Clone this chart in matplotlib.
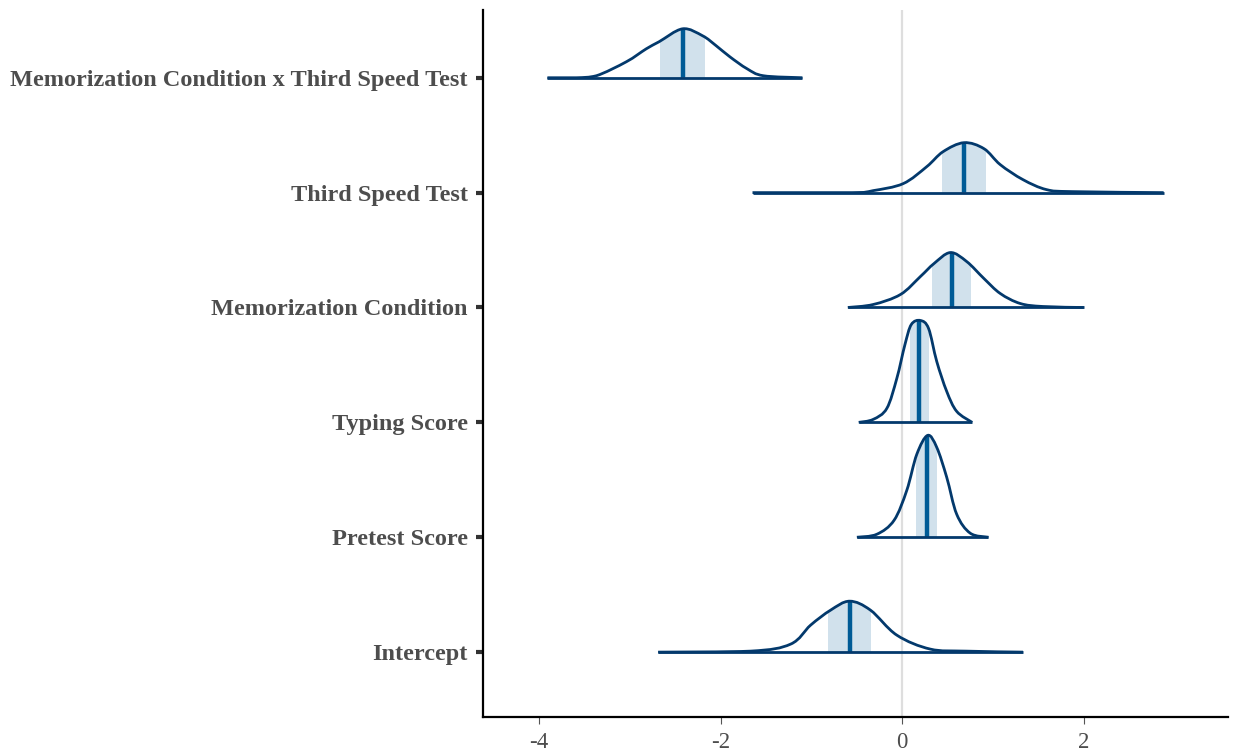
import matplotlib.pyplot as plt
from matplotlib.patches import PathPatch, Rectangle
from matplotlib.path import Path
import numpy as np

# parameters, top to bottom
params = ["Memorization Condition x Third Speed Test", "Third Speed Test",
          "Memorization Condition", "Typing Score", "Pretest Score", "Intercept"]

# density outlines: x positions and curve heights (pixels above baseline)
dens_x = [
    [-3.91, -3.59, -3.37, -3.04, -2.82, -2.68, -2.42, -2.20, -2.05, -1.90, -1.71, -1.53, -1.10],
    [-1.65, -0.55, -0.32, 0.01, 0.27, 0.45, 0.68, 0.90, 1.08, 1.33, 1.59, 1.88, 2.88],
    [-0.60, -0.32, -0.02, 0.20, 0.35, 0.53, 0.71, 0.90, 1.08, 1.30, 1.55, 2.00],
    [-0.48, -0.32, -0.17, -0.06, 0.03, 0.10, 0.20, 0.29, 0.38, 0.49, 0.60, 0.77],
    [-0.50, -0.28, -0.09, 0.05, 0.16, 0.28, 0.38, 0.49, 0.60, 0.75, 0.95],
    [-2.69, -1.67, -1.23, -1.01, -0.79, -0.58, -0.35, -0.06, 0.31, 0.70, 1.33],
]
dens_h = [
    [0, 0, 2, 16, 29, 36, 49, 42, 32, 21, 9, 2, 0],
    [0, 0, 2, 9, 26, 41, 50, 44, 28, 13, 3, 1, 0],
    [0, 3, 13, 31, 44, 55, 46, 29, 14, 4, 1, 0],
    [0, 3, 14, 44, 78, 98, 102, 94, 61, 31, 11, 0],
    [0, 3, 17, 47, 83, 102, 90, 60, 23, 4, 0],
    [0, 1, 8, 27, 42, 51, 42, 17, 3, 1, 0],
]
# 50% intervals and medians
ci_lo = [-2.67, 0.44, 0.33, 0.08, 0.15, -0.82]
ci_hi = [-2.17, 0.92, 0.76, 0.30, 0.38, -0.34]
medians = [-2.42, 0.68, 0.55, 0.19, 0.27, -0.58]

xticks = [-4, -2, 0, 2]

fill_col = "#d1e1ec"
line_col = "#03396c"
med_col = "#005b96"
row_px = 115.0


def smooth_path(pts, ymin):
    # catmull-rom through the read points, as cubic bezier segments
    p = np.vstack([pts[0], pts, pts[-1]])
    verts = [pts[0]]
    codes = [Path.MOVETO]
    for k in range(1, len(p) - 2):
        c1 = p[k] + (p[k + 1] - p[k - 1]) / 6.0
        c2 = p[k + 1] - (p[k + 2] - p[k]) / 6.0
        c1[1] = max(c1[1], ymin)
        c2[1] = max(c2[1], ymin)
        verts += [c1, c2, p[k + 1]]
        codes += [Path.CURVE4] * 3
    return Path(np.array(verts), codes)


fig = plt.figure(figsize=(12.33, 7.55), dpi=100)
ax = fig.add_axes([0.3917, 0.0503, 0.6043, 0.9365])

ax.axvline(0, color="#dedede", lw=1.6, zorder=0)

n = len(params)
for i, name in enumerate(params):
    y0 = n - i
    xs = np.array(dens_x[i])
    ys = y0 + np.array(dens_h[i]) / row_px
    path = smooth_path(np.column_stack([xs, ys]), y0)

    clip = PathPatch(path, fc="none", ec="none")
    ax.add_patch(clip)

    rect = Rectangle((ci_lo[i], y0), ci_hi[i] - ci_lo[i], 1.0, fc=fill_col, ec="none", zorder=1)
    ax.add_patch(rect)
    rect.set_clip_path(clip)

    med, = ax.plot([medians[i], medians[i]], [y0, y0 + 1.0], color=med_col, lw=3.2, zorder=2,
                   solid_capstyle="butt")
    med.set_clip_path(clip)

    ax.add_patch(PathPatch(path, fc="none", ec=line_col, lw=2.0, zorder=3, joinstyle="round"))
    ax.plot([xs[0], xs[-1]], [y0, y0], color=line_col, lw=2.0, zorder=3, solid_capstyle="butt")

ax.set_xlim(-4.62, 3.59)
ax.set_ylim(0.435, 6.59)
ax.set_yticks(range(n, 0, -1))
ax.set_yticklabels(params, family="Liberation Serif", fontweight="bold", fontsize=17.5, color="#4d4d4d")
ax.set_xticks(xticks)
ax.set_xticklabels([str(t) for t in xticks], family="Liberation Serif", fontsize=16.5, color="#4d4d4d")

ax.tick_params(axis="y", length=5, width=3, color="#333333", pad=6)
ax.tick_params(axis="x", length=5, width=0.8, color="#555555", pad=6)
for s in ["top", "right"]:
    ax.spines[s].set_visible(False)
ax.spines["left"].set_linewidth(1.6)
ax.spines["bottom"].set_linewidth(1.6)

fig.savefig("out.png", dpi=100)
